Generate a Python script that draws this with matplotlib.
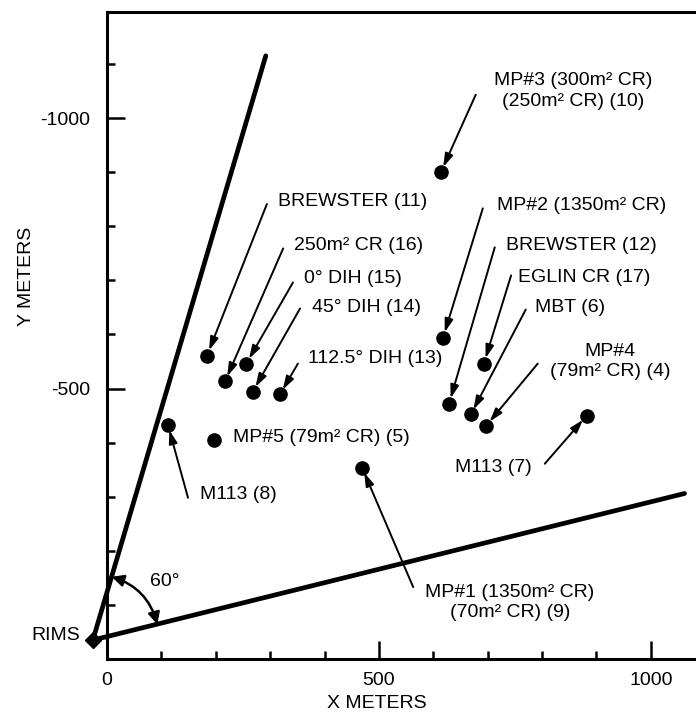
import matplotlib
matplotlib.use('Agg')
import matplotlib.pyplot as plt
from matplotlib.patches import FancyArrowPatch
import numpy as np

plt.rcParams['font.family'] = ['Liberation Sans', 'DejaVu Sans']
plt.rcParams['axes.unicode_minus'] = False

# target positions (meters), y grows toward RIMS
names = ['MP#3 (300m² CR)\n(250m² CR) (10)', 'BREWSTER (11)', '250m² CR (16)',
         '0° DIH (15)', '45° DIH (14)', '112.5° DIH (13)', 'MP#2 (1350m² CR)',
         'BREWSTER (12)', 'EGLIN CR (17)', 'MBT (6)', 'MP#4\n(79m² CR) (4)',
         'M113 (7)', 'MP#1 (1350m² CR)\n(70m² CR) (9)', 'MP#5 (79m² CR) (5)',
         'M113 (8)']
x_m = [614, 184, 217, 256, 268, 318, 618, 629, 693, 669, 697, 882, 469, 197, 112]
y_m = [-900, -561, -513, -546, -494, -489, -594, -472, -546, -452, -431, -450, -354, -404, -433]

rims_x, rims_y = -26, -35
sector_ends_x = [292, 1062]
sector_ends_y = [-1115, -306]

# label layout: (text x, text y, ha, arrow tail x, arrow tail y or None)
layout = [
    (857, -1050, 'center', 678, -1043),
    (314, -846, 'left', 294, -841),
    (344, -765, 'left', 324, -759),
    (362, -704, 'left', 342, -696),
    (377, -650, 'left', 355, -648),
    (369, -556, 'left', 351, -546),
    (717, -839, 'left', 691, -833),
    (733, -765, 'left', 713, -761),
    (756, -706, 'left', 743, -709),
    (787, -650, 'left', 770, -646),
    (925, -550, 'center', 792, -546),
    (640, -354, 'left', 805, -361),
    (741, -105, 'center', 563, -133),
    (232, -409, 'left', None, None),
    (171, -304, 'left', 149, -298),
]

fig = plt.figure(figsize=(6.96, 7.14), dpi=100)
ax = fig.add_axes([0.1537, 0.077, 0.8463, 0.9062])
ax.set_xlim(0, 1083)
ax.set_ylim(0, -1196)

for s in ['left', 'bottom', 'top']:
    ax.spines[s].set_linewidth(2.2)
ax.spines['right'].set_visible(False)

ax.set_xticks([0, 500, 1000])
ax.set_xticks([100, 200, 300, 400, 600, 700, 800, 900], minor=True)
ax.set_yticks([-1000, -500])
ax.set_yticks([-1100, -900, -800, -700, -600, -400, -300, -200, -100], minor=True)
ax.tick_params(which='major', direction='in', length=13, width=1.8,
               labelsize=14, pad=9, top=False, right=False)
ax.tick_params(which='minor', direction='in', length=6, width=1.8,
               top=False, right=False)
ax.tick_params(axis='y', which='major', pad=12)

ax.set_xlabel('X METERS', fontsize=14)
ax.xaxis.set_label_coords(0.458, -0.056)
ax.set_ylabel('Y METERS', fontsize=14)
ax.yaxis.set_label_coords(-0.122, 0.592)

# sector boundaries from RIMS
for ex, ey in zip(sector_ends_x, sector_ends_y):
    ax.plot([rims_x, ex], [rims_y, ey], color='black', lw=3.4,
            solid_capstyle='round', clip_on=False)
ax.plot(rims_x, rims_y, marker='D', color='black', markersize=8, clip_on=False)
ax.text(-50, -44, 'RIMS', fontsize=14, ha='right', va='center')

# 60 degree arc
r = 122
a1, a2 = np.radians(73.4), np.radians(13.8)
p1 = (rims_x + r * np.cos(a1), rims_y - r * np.sin(a1))
p2 = (rims_x + r * np.cos(a2), rims_y - r * np.sin(a2))
arc = FancyArrowPatch(p1, p2, arrowstyle='<|-|>,head_length=7,head_width=3.5',
                      connectionstyle='arc3,rad=-0.27', color='black', lw=1.8,
                      shrinkA=0, shrinkB=0, clip_on=False)
ax.add_patch(arc)
ax.text(107, -144, '60°', fontsize=14, ha='center', va='center')

ax.plot(x_m, y_m, 'o', color='black', markersize=9.5)

for name, px, py, (tx, ty, ha, ax0, ay0) in zip(names, x_m, y_m, layout):
    ax.text(tx, ty, name, fontsize=14, ha=ha, va='center', linespacing=1.25,
            multialignment='center')
    if ax0 is not None:
        ax.annotate('', xy=(px, py), xytext=(ax0, ay0),
                    arrowprops=dict(arrowstyle='-|>,head_length=0.8,head_width=0.25',
                                    color='black', lw=1.4, shrinkA=0, shrinkB=4))

fig.savefig('out.png', dpi=100)
